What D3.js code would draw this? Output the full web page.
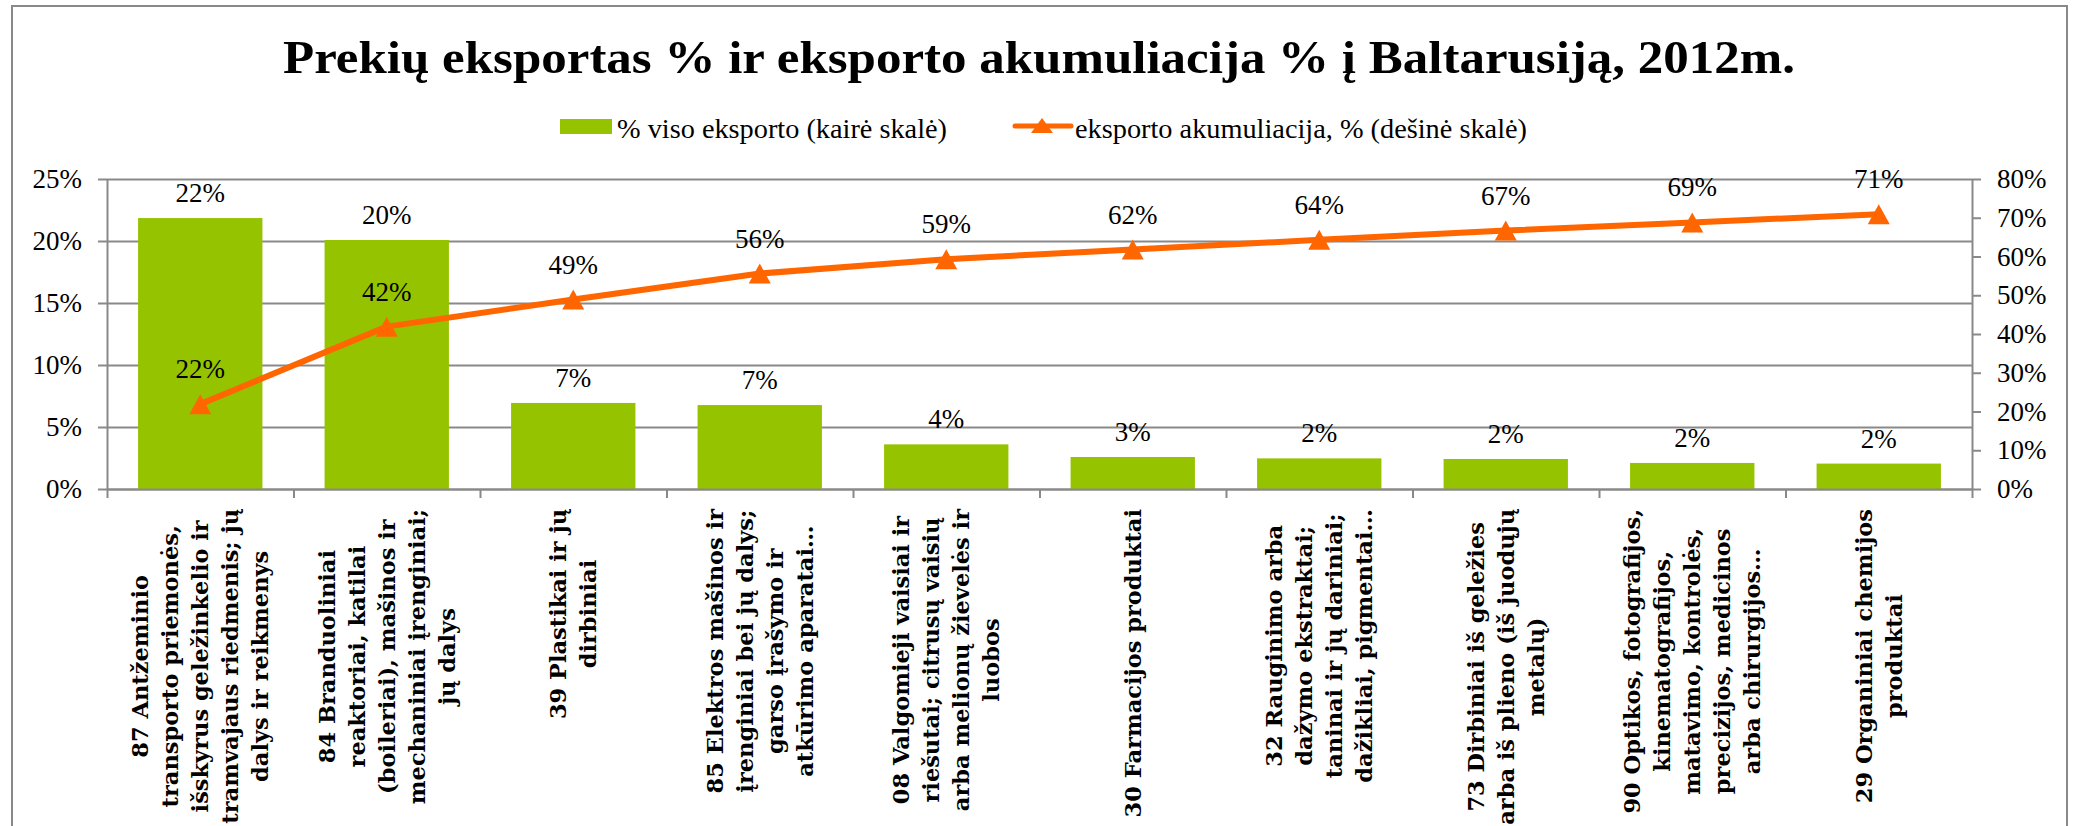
<!DOCTYPE html>
<html>
<head>
<meta charset="utf-8">
<script src="https://cdn.jsdelivr.net/npm/d3@7"></script>
<style>
  body { margin: 0; background: #fff; }
  svg { display: block; }
</style>
</head>
<body>
<svg width="2077" height="826"></svg>
<script>
// chart data
var title = "Prekių eksportas % ir eksporto akumuliacija % į Baltarusiją, 2012m.";
var seriesNames = ["% viso eksporto (kairė skalė)", "eksporto akumuliacija, % (dešinė skalė)"];

var categories = [
  "87 Antžeminio\ntransporto priemonės,\nišskyrus geležinkelio ir\ntramvajaus riedmenis; jų\ndalys ir reikmenys",
  "84 Branduoliniai\nreaktoriai, katilai\n(boileriai), mašinos ir\nmechaniniai įrenginiai;\njų dalys",
  "39 Plastikai ir jų\ndirbiniai",
  "85 Elektros mašinos ir\nįrenginiai bei jų dalys;\ngarso įrašymo ir\natkūrimo aparatai…",
  "08 Valgomieji vaisiai ir\nriešutai; citrusų vaisių\narba melionų žievelės ir\nluobos",
  "30 Farmacijos produktai",
  "32 Rauginimo arba\ndažymo ekstraktai;\ntaninai ir jų dariniai;\ndažikliai, pigmentai…",
  "73 Dirbiniai iš geležies\narba iš plieno (iš juodųjų\nmetalų)",
  "90 Optikos, fotografijos,\nkinematografijos,\nmatavimo, kontrolės,\nprecizijos, medicinos\narba chirurgijos…",
  "29 Organiniai chemijos\nproduktai"
];

// % of total export (left scale)
var exportShare = [21.85, 20.08, 6.94, 6.77, 3.6, 2.58, 2.47, 2.42, 2.1, 2.05];
// cumulative export % (right scale)
var cumulative = [21.9, 41.9, 48.9, 55.6, 59.3, 61.8, 64.3, 66.7, 68.8, 70.9];

var leftTicks = [0, 5, 10, 15, 20, 25];
var rightTicks = [0, 10, 20, 30, 40, 50, 60, 70, 80];

// layout
var svg = d3.select("svg"),
    width = +svg.attr("width"),
    height = +svg.attr("height");

var plotLeft = 107, plotRight = 1972, plotTop = 179, plotBottom = 489;
var gray = "#898989", green = "#96c300", orange = "#ff6600";
var numFont = "'Liberation Serif', 'Times New Roman', serif";

// chart frame
svg.append("rect")
  .attr("x", 12).attr("y", 6)
  .attr("width", 2055).attr("height", 840)
  .attr("fill", "none")
  .attr("stroke", gray)
  .attr("stroke-width", 2);

// title
svg.append("text")
  .attr("x", 283).attr("y", 73)
  .attr("textLength", 1512)
  .attr("lengthAdjust", "spacingAndGlyphs")
  .style("font-family", numFont)
  .style("font-weight", "bold")
  .style("font-size", "46px")
  .text(title);

// scales
var x = d3.scaleBand()
  .domain(d3.range(categories.length))
  .range([plotLeft, plotRight])
  .paddingInner(1/3)
  .paddingOuter(1/6);

var xEdge = d3.scaleLinear().domain([0, categories.length]).range([plotLeft, plotRight]);

var yLeft = d3.scaleLinear().domain([0, 25]).range([plotBottom, plotTop]);
var yRight = d3.scaleLinear().domain([0, 80]).range([plotBottom, plotTop]);

// gridlines
var grid = svg.append("g")
  .attr("transform", "translate(" + plotLeft + ",0)")
  .call(d3.axisLeft(yLeft).tickValues(leftTicks).tickSize(-(plotRight - plotLeft)).tickFormat(""));
grid.select(".domain").remove();
grid.selectAll("line").attr("stroke", gray).attr("stroke-width", 2);

// bars
svg.append("g")
  .selectAll("rect")
  .data(exportShare)
  .enter()
  .append("rect")
    .attr("x", function(d, i){ return x(i) })
    .attr("y", function(d){ return yLeft(d) })
    .attr("width", x.bandwidth())
    .attr("height", function(d){ return plotBottom - yLeft(d) })
    .attr("fill", green);

// axes
function styleAxis(g) {
  g.selectAll(".domain").attr("stroke", gray).attr("stroke-width", 2);
  g.selectAll(".tick line").attr("stroke", gray).attr("stroke-width", 2);
  g.selectAll("text")
    .attr("fill", "#000")
    .style("font-family", numFont)
    .style("font-size", "27px");
}

svg.append("g")
  .attr("transform", "translate(" + plotLeft + ",0)")
  .call(d3.axisLeft(yLeft).tickValues(leftTicks).tickSize(9).tickSizeOuter(0).tickPadding(16)
        .tickFormat(function(d){ return d + "%" }))
  .call(styleAxis);

svg.append("g")
  .attr("transform", "translate(" + plotRight + ",0)")
  .call(d3.axisRight(yRight).tickValues(rightTicks).tickSize(9).tickSizeOuter(0).tickPadding(16)
        .tickFormat(function(d){ return d + "%" }))
  .call(styleAxis);

svg.append("g")
  .attr("transform", "translate(0," + plotBottom + ")")
  .call(d3.axisBottom(xEdge).tickValues(d3.range(categories.length + 1)).tickSize(9).tickSizeOuter(0).tickFormat(""))
  .call(styleAxis);

// cumulative line
var line = d3.line()
  .x(function(d, i){ return x(i) + x.bandwidth() / 2 })
  .y(function(d){ return yRight(d) });

svg.append("path")
  .datum(cumulative)
  .attr("d", line)
  .attr("fill", "none")
  .attr("stroke", orange)
  .attr("stroke-width", 6)
  .attr("stroke-linejoin", "round");

var tri = "M0,-10L11,10L-11,10Z";
svg.append("g")
  .selectAll("path")
  .data(cumulative)
  .enter()
  .append("path")
    .attr("d", tri)
    .attr("transform", function(d, i){ return "translate(" + (x(i) + x.bandwidth() / 2) + "," + yRight(d) + ")" })
    .attr("fill", orange);

// data labels
var labelStyle = function(sel) {
  sel.attr("text-anchor", "middle")
    .style("font-family", numFont)
    .style("font-size", "27px")
    .attr("fill", "#000");
};

svg.append("g")
  .selectAll("text")
  .data(exportShare)
  .enter()
  .append("text")
    .attr("x", function(d, i){ return x(i) + x.bandwidth() / 2 })
    .attr("y", function(d){ return yLeft(d) - 16 })
    .text(function(d){ return Math.round(d) + "%" })
    .call(labelStyle);

svg.append("g")
  .selectAll("text")
  .data(cumulative)
  .enter()
  .append("text")
    .attr("x", function(d, i){ return x(i) + x.bandwidth() / 2 })
    .attr("y", function(d){ return yRight(d) - 26 })
    .text(function(d){ return Math.round(d) + "%" })
    .call(labelStyle);

// category labels, rotated, multi-line, anchored under the axis
var lineGap = 30;
categories.forEach(function(c, i){
  var lines = c.split("\n");
  var g = svg.append("g")
    .attr("transform", "translate(" + (x(i) + x.bandwidth() / 2) + ",509) rotate(-90)");
  var texts = g.selectAll("text")
    .data(lines)
    .enter()
    .append("text")
      .attr("text-anchor", "middle")
      .attr("dominant-baseline", "central")
      .attr("y", function(d, j){ return (j - (lines.length - 1) / 2) * lineGap })
      .style("font-family", "'DejaVu Serif', serif")
      .style("font-weight", "bold")
      .style("font-size", "22.5px")
      .text(function(d){ return d });
  var maxW = d3.max(texts.nodes(), function(n){ return n.getComputedTextLength() });
  texts.attr("x", -maxW / 2);
});

// legend
var legend = svg.append("g");
legend.append("rect")
  .attr("x", 560).attr("y", 119)
  .attr("width", 52).attr("height", 15)
  .attr("fill", green);
legend.append("text")
  .attr("x", 617).attr("y", 138)
  .attr("textLength", 330)
  .attr("lengthAdjust", "spacingAndGlyphs")
  .style("font-family", numFont)
  .style("font-size", "27px")
  .text(seriesNames[0]);
legend.append("line")
  .attr("x1", 1015).attr("x2", 1071)
  .attr("y1", 126).attr("y2", 126)
  .attr("stroke", orange)
  .attr("stroke-width", 5)
  .attr("stroke-linecap", "round");
legend.append("path")
  .attr("d", "M0,-8L11,7L-11,7Z")
  .attr("transform", "translate(1042,126)")
  .attr("fill", orange);
legend.append("text")
  .attr("x", 1075).attr("y", 138)
  .attr("textLength", 452)
  .attr("lengthAdjust", "spacingAndGlyphs")
  .style("font-family", numFont)
  .style("font-size", "27px")
  .text(seriesNames[1]);
</script>
</body>
</html>
